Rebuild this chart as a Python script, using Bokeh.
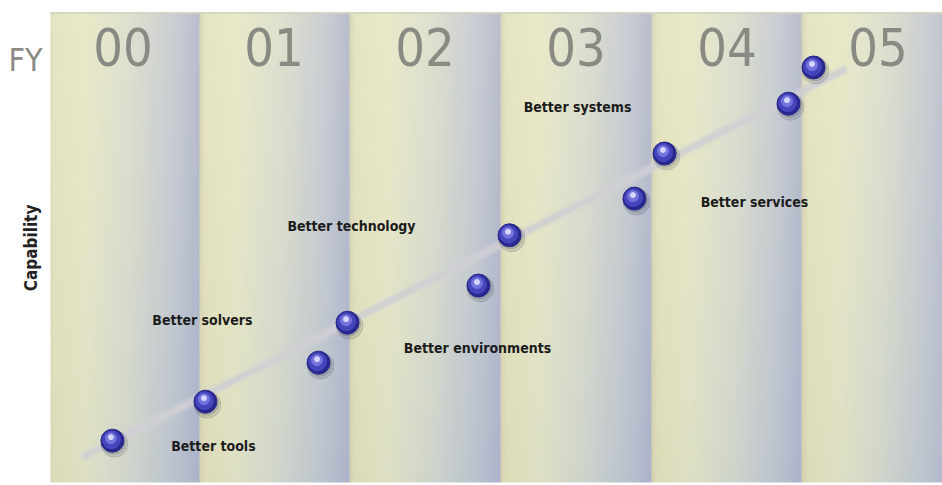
import numpy as np
from bokeh.plotting import figure
from bokeh.models import Range1d
from bokeh.core.properties import value
from bokeh.embed import file_html
from bokeh.resources import INLINE

# ---------------- data ----------------
years = ["00", "01", "02", "03", "04", "05"]
year_x = [0.5, 1.5, 2.5, 3.5, 4.5, 5.5]
year_y = [92.6, 92.6, 92.6, 92.6, 92.6, 92.6]

pt_x = [0.430, 1.046, 1.795, 1.987, 2.854, 3.060, 3.887, 4.086, 4.907, 5.073]
pt_y = [8.9, 17.2, 25.5, 34.0, 41.9, 52.6, 60.4, 70.0, 80.6, 88.3]

labels = ["Better tools", "Better solvers", "Better technology",
          "Better environments", "Better systems", "Better services"]
label_x = [1.099, 1.026, 2.013, 2.848, 3.510, 4.682]
label_y = [7.7, 34.5, 54.5, 28.7, 79.8, 59.6]

trend_x = [0.252, 5.27]
trend_y = [5.7, 87.7]

axis_title = "Capability"
year_title = "FY"

# ---------------- geometry / styling ----------------
FONT_N = "'Liberation Sans Narrow', 'DejaVu Sans Condensed', 'Arial Narrow', sans-serif"
X0, X1 = 0.02, 5.927          # panel extent (fiscal-year units)
Y0, Y1 = 0.0, 100.0           # panel extent (capability units)
PX_X = (X1 - X0) / 892.0      # data units per screen pixel
PX_Y = (Y1 - Y0) / 470.0

p = figure(width=942, height=485,
           x_range=Range1d(X0 - 50 * PX_X, X1),
           y_range=Range1d(Y0 - 3 * PX_Y, Y1 + 12 * PX_Y),
           output_backend="svg", toolbar_location=None,
           min_border=0, min_border_left=0, min_border_right=0,
           min_border_top=0, min_border_bottom=0)
p.background_fill_color = "white"
p.border_fill_color = "white"
p.outline_line_color = None
p.xgrid.visible = False
p.ygrid.visible = False
p.xaxis.visible = False
p.yaxis.visible = False

# ---------------- background columns (cylindrical shading) ----------------
W, H = 900, 40
xs = np.linspace(X0, X1, W)
t = xs % 1.0
stops = [0.0, 0.04, 0.25, 0.55, 0.85, 1.0]
top = np.array([[216, 214, 186], [230, 230, 196], [234, 234, 201],
                [222, 225, 207], [202, 206, 212], [186, 190, 205]], float)
bot = np.array([[214, 208, 176], [220, 220, 185], [222, 224, 196],
                [206, 212, 204], [186, 193, 205], [172, 179, 203]], float)
ct = np.stack([np.interp(t, stops, top[:, i]) for i in range(3)], -1)
cb = np.stack([np.interp(t, stops, bot[:, i]) for i in range(3)], -1)
v = ((np.arange(H) + 0.5) / H) ** 0.8
col = cb[None, :, :] * (1 - v)[:, None, None] + ct[None, :, :] * v[:, None, None]
img = np.empty((H, W), dtype=np.uint32)
view = img.view(dtype=np.uint8).reshape((H, W, 4))
view[..., 0] = col[..., 0].astype(np.uint8)
view[..., 1] = col[..., 1].astype(np.uint8)
view[..., 2] = col[..., 2].astype(np.uint8)
view[..., 3] = 255
p.image_rgba(image=[img], x=X0, y=Y0, dw=X1 - X0, dh=Y1 - Y0)
# faint top edge of the panel
p.segment(x0=[X0], y0=[Y1 - 0.5 * PX_Y], x1=[X1], y1=[Y1 - 0.5 * PX_Y],
          line_color="#cfd2be", line_width=2, alpha=0.8)

# ---------------- trend band ----------------
p.line(trend_x, trend_y, line_width=11, color="#d4d3d6", alpha=0.35, line_cap="round")
p.line(trend_x, trend_y, line_width=6, color="#d0ced3", alpha=0.8, line_cap="round")

# ---------------- spheres ----------------
px = np.array(pt_x)
py = np.array(pt_y)
p.scatter(px + 2 * PX_X, py - 3 * PX_Y, size=27, color="#4a4a5a", alpha=0.16)
p.scatter(px + 1 * PX_X, py - 1.5 * PX_Y, size=24, color="#4a4a5a", alpha=0.16)
p.scatter(px, py, size=23, color="#28288e")
p.scatter(px - 1 * PX_X, py + 1 * PX_Y, size=18, color="#4646bc")
p.scatter(px - 1.5 * PX_X, py + 2.5 * PX_Y, size=11, color="#7474de")
p.scatter(px - 1.5 * PX_X, py + 3.5 * PX_Y, size=5, color="#d6d6ff")

# ---------------- texts ----------------
p.text(x=year_x, y=year_y, text=years, text_font=value(FONT_N), text_font_size="52px",
       text_color="#8a8a84", text_align="center", text_baseline="middle")

p.text(x=label_x, y=label_y, text=labels, text_font=value(FONT_N), text_font_size="14px",
       text_font_style="bold", text_color="#1c1c1c", text_align="center",
       text_baseline="middle")

p.text(x=[X0 - 25 * PX_X], y=[90.0], text=[year_title], text_font=value(FONT_N),
       text_font_size="32px", text_color="#8a8a84", text_align="center",
       text_baseline="middle")

p.text(x=[X0 - 20 * PX_X], y=[49.9], text=[axis_title], angle=np.pi / 2,
       text_font=value(FONT_N), text_font_size="17px", text_font_style="bold",
       text_color="#222222", text_align="center", text_baseline="middle")

open("out.html", "w").write(file_html(p, INLINE))
